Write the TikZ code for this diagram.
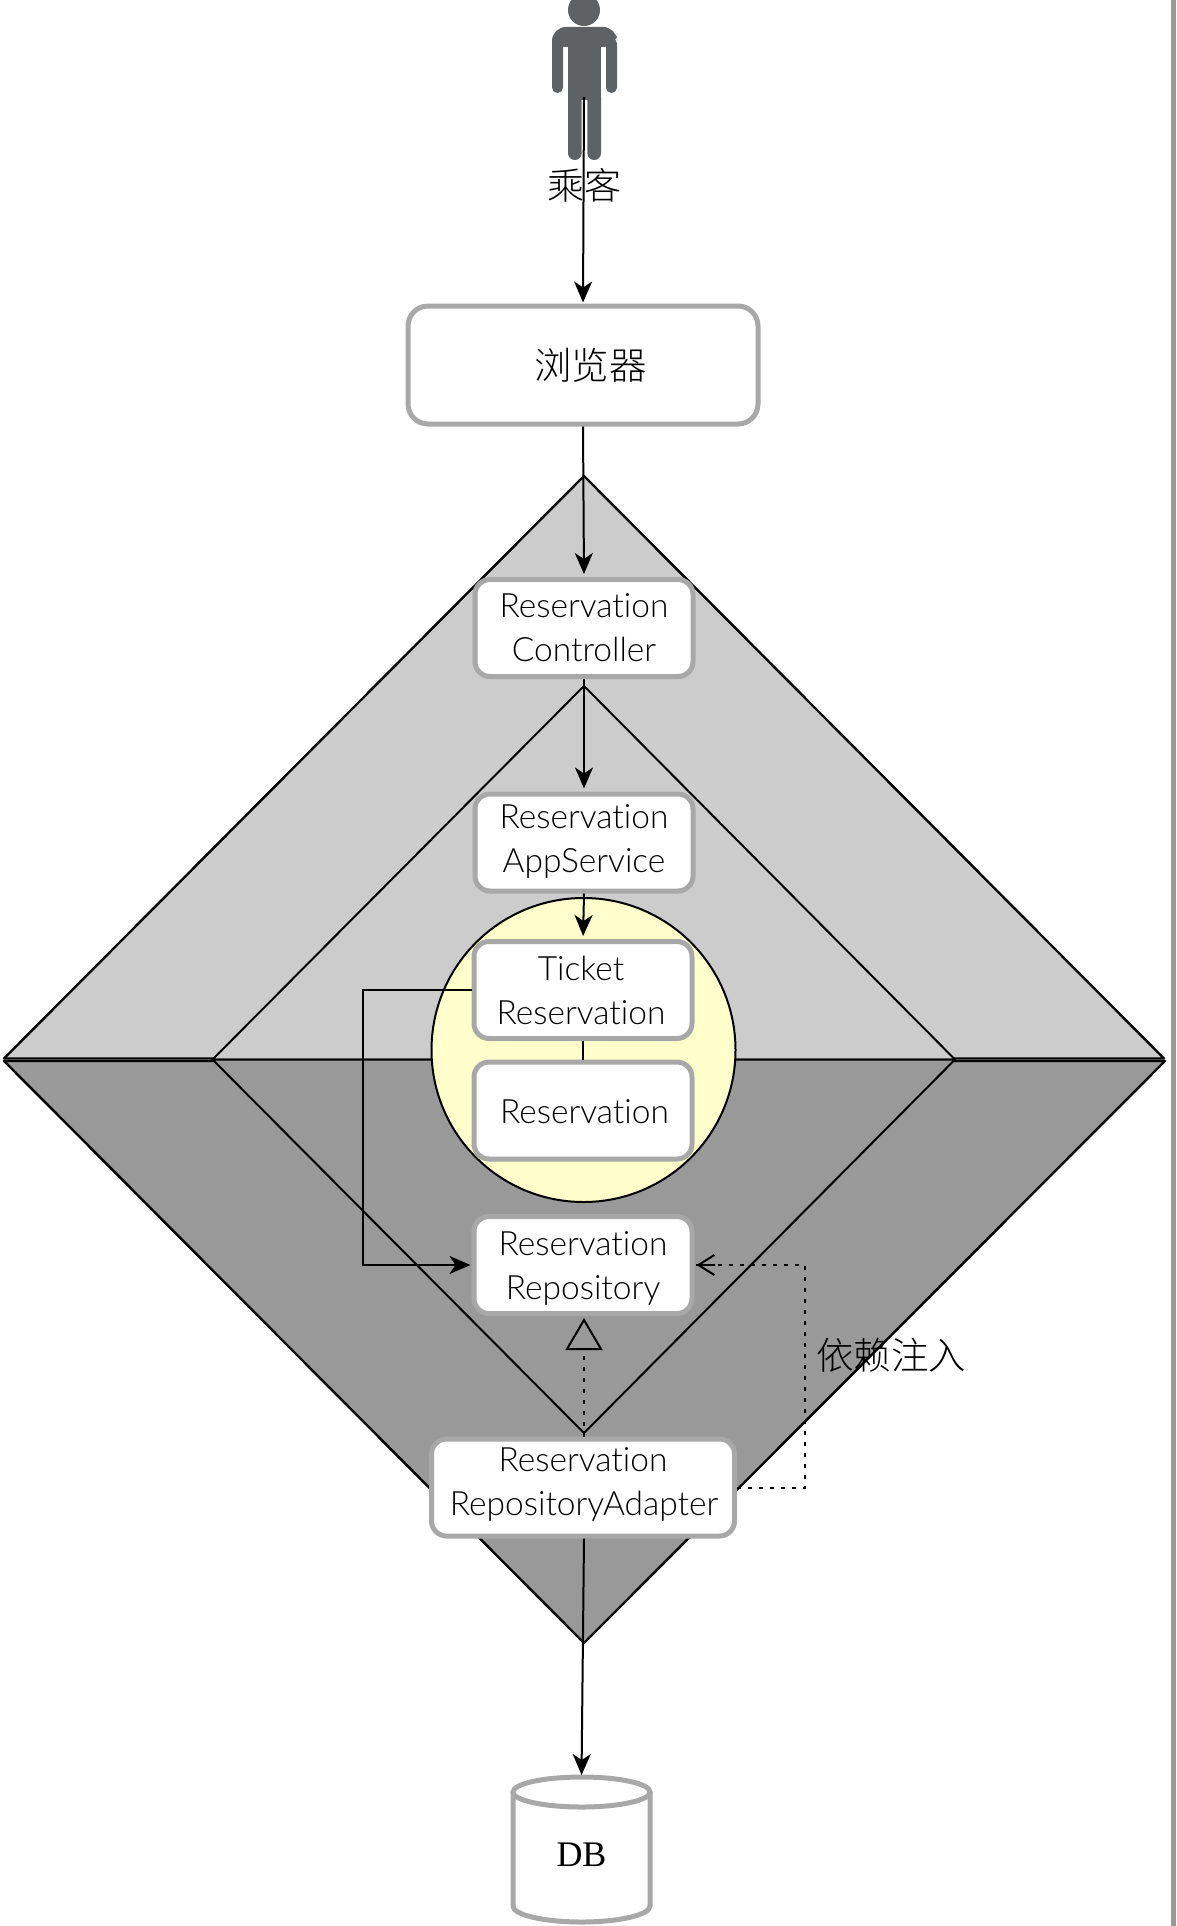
\documentclass[tikz,border=0pt]{standalone}
\usepackage{fontspec}
\setmainfont{Lato}[UprightFont=* Light,Ligatures=NoCommon]
\newfontfamily\cjk{Noto Sans CJK SC}[UprightFont=* Light]
\newfontfamily\dbfont{Liberation Serif}
\usetikzlibrary{arrows.meta}
\definecolor{lightgr}{HTML}{CCCCCC}
\definecolor{darkgr}{HTML}{999999}
\definecolor{edgegr}{HTML}{A8A8A8}
\definecolor{personc}{HTML}{5F6264}
\definecolor{circlec}{HTML}{FFFFCC}
\newcommand{\upby}[1]{\rule[-#1]{0pt}{#1}}
\newcommand{\downby}[1]{\rule{0pt}{#1}}
\tikzset{
  wedge/.style={draw=black,line width=2pt,line join=round},
  link/.style={draw=black,line width=2pt},
  solidtip/.style={-{Stealth[length=21pt,width=18pt,inset=6pt]},shorten >=3pt},
  dots/.style={draw=black,line width=2pt,dash pattern=on 4pt off 7pt},
  box/.style={draw=edgegr,line width=5pt,fill=white,rounded corners=15pt,inner sep=0pt,align=center,
    minimum width=218pt,minimum height=97pt,font=\fontsize{33.5}{44}\selectfont},
  cjktext/.style={inner sep=0pt,font=\cjk\fontsize{37}{37}\selectfont}
}
\begin{document}
\begin{tikzpicture}[x=1pt,y=-1pt]
\useasboundingbox (0,0) rectangle (1176,1926);
\fill[white] (0,0) rectangle (1176,1926);
\fill[darkgr] (1171,0) rectangle (1176,1926);
% wedges
\draw[wedge,fill=lightgr,line width=2.4pt] (584,476) -- (1164,1058.5) -- (4,1058.5) -- cycle;
\draw[wedge,fill=darkgr,line width=2.4pt] (4,1061) -- (1165,1061) -- (584,1643) -- cycle;
\draw[wedge,fill=lightgr] (584,686) -- (955,1059.5) -- (212.5,1059.5) -- cycle;
\draw[wedge,fill=darkgr] (212.5,1059.5) -- (955,1059.5) -- (584,1433) -- cycle;
\node[draw=black,line width=2pt,fill=circlec,circle,minimum size=304pt,inner sep=0pt] (domain) at (583.5,1050) {};
% person
\begin{scope}[personc]
\fill (584,10) circle (16);
\fill[rounded corners=14pt] (552,47) -- (552,27) -- (617,27) -- (617,47) [sharp corners] -- cycle;
\fill[rounded corners=5.4pt] (552,38) rectangle (563,93);
\fill[rounded corners=5.4pt] (606,38) rectangle (617,93);
\fill (568,30) rectangle (601,100);
\fill[rounded corners=6.8pt] (568,90) rectangle (581.7,160);
\fill[rounded corners=6.8pt] (587.3,90) rectangle (601,160);
\end{scope}
\coordinate (foot) at (584,97);
\node[cjktext] (rider) at (584,185) {乘客};
% boxes
\node[box,minimum width=350pt,minimum height=118pt,rounded corners=20pt,font=\cjk\fontsize{37.5}{37.5}\selectfont] (browser) at (583,365) {\hspace*{15pt}浏览器};
\node[box] (controller) at (584,628) {Reservation\\Controller};
\node[box] (app) at (584,842.5) {Reservation\\AppService\upby{7pt}};
\node[box] (ticket) at (583,990) {\hspace*{-4pt}Ticket\\\hspace*{-4pt}Reservation};
\node[box] (res) at (583,1110.5) {\downby{26pt}\hspace*{3pt}Reservation};
\node[box] (repo) at (583,1265) {\downby{31.5pt}Reservation\\Repository};
\node[box,minimum width=303pt] (adapter) at (583,1487.5) {Reservation\\\hspace*{2pt}RepositoryAdapter\upby{12.5pt}};
% database
\coordinate (dbtop) at (581.5,1777);
\draw[edgegr,line width=5pt,fill=white] (513,1792) -- (513,1906) arc[start angle=180,end angle=360,x radius=68.5,y radius=-16] -- (650,1792);
\draw[edgegr,line width=5pt,fill=white] (581.5,1792) ellipse[x radius=68.5,y radius=15];
\node[inner sep=0pt,font=\dbfont\fontsize{36}{36}\selectfont] (db) at (581.5,1855) {DB};
% connectors
\draw[link,solidtip,shorten >=1pt] (foot) -- (browser.north);
\draw[link,solidtip] (browser.south) -- (controller.north);
\draw[link,solidtip] (controller.south) -- (app.north);
\draw[link,solidtip] (app.south) -- (ticket.north);
\draw[link] (ticket.south) -- (res.north);
\coordinate (bend) at (362.5,1265);
\draw[link,solidtip,shorten >=1pt] (ticket.west) -| (bend) -- (repo.west);
\coordinate (triTip) at (584,1320);
\coordinate (triBase) at (584,1349);
\draw[link] (triTip) -- (567,1349) -- (601,1349) -- cycle;
\draw[dots] (adapter.north -| triBase) -- (triBase);
\coordinate (inj1) at (805,1487.5);
\coordinate (inj2) at (805,1265);
\draw[dots] (adapter.east) -- (inj1) -- (inj2) -- (repo.east);
\draw[link,-{Straight Barb[length=16pt,width=20pt]},shorten >=2pt] (inj2) ++(-90,0) coordinate (barbstart) (barbstart) -- (repo.east);
\draw[link,solidtip,shorten >=2pt] (adapter.south -| triTip) -- (dbtop);
\node[cjktext,font=\cjk\fontsize{37.5}{37.5}\selectfont] (inject) at (891,1355) {依赖注入};
\end{tikzpicture}
\end{document}
